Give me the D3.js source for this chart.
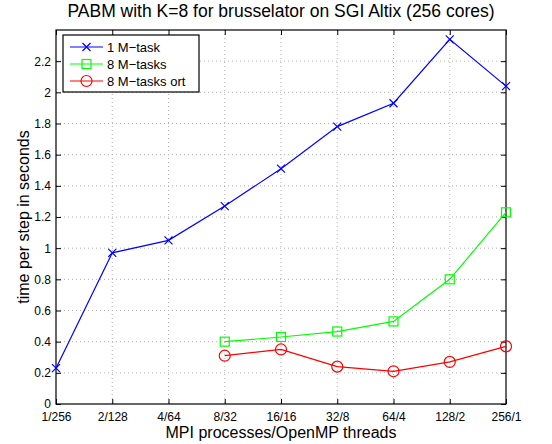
<html>
<head>
<meta charset="UTF-8">
<script src="https://cdn.jsdelivr.net/npm/d3@7"></script>
<style>
body { margin: 0; background: #fff; }
svg { font-family: "Liberation Sans", Arial, sans-serif; }
.grid line { stroke: #b0b0b0; stroke-dasharray: 1,3; }
</style>
</head>
<body>
<svg id="chart" width="552" height="444"></svg>
<script>
var categories = ["1/256", "2/128", "4/64", "8/32", "16/16", "32/8", "64/4", "128/2", "256/1"];
var yTicks = [0, 0.2, 0.4, 0.6, 0.8, 1, 1.2, 1.4, 1.6, 1.8, 2, 2.2];
var oneTask = [0.23, 0.97, 1.05, 1.27, 1.51, 1.78, 1.93, 2.34, 2.04];
var eightTasks = [null, null, null, 0.40, 0.43, 0.465, 0.53, 0.80, 1.23];
var eightOrt = [null, null, null, 0.31, 0.35, 0.24, 0.21, 0.27, 0.37];

var svg = d3.select("#chart"),
  pl = 56, pr = 506, pt = 30, pb = 404;

var x = d3.scalePoint().domain(categories).range([pl, pr]),
  y = d3.scaleLinear().domain([0, 2.4]).range([pb, pt]);

// grid
var grid = svg.append("g").attr("class", "grid");
grid.selectAll(".gx").data(categories.slice(1, -1)).enter().append("line")
  .attr("x1", function(d){ return x(d); }).attr("x2", function(d){ return x(d); })
  .attr("y1", pt).attr("y2", pb);
grid.selectAll(".gy").data(yTicks.slice(1)).enter().append("line")
  .attr("x1", pl).attr("x2", pr)
  .attr("y1", function(d){ return y(d); }).attr("y2", function(d){ return y(d); });

// axes (ticks inside, matlab style)
svg.append("g").attr("transform", "translate(0," + pb + ")")
  .call(d3.axisBottom(x).tickSize(-5).tickPadding(8))
  .call(function(g){ g.select(".domain").remove(); });
svg.append("g").attr("transform", "translate(0," + pt + ")")
  .call(d3.axisTop(x).tickSize(-5).tickFormat(""))
  .call(function(g){ g.select(".domain").remove(); });
svg.append("g").attr("transform", "translate(" + pl + ",0)")
  .call(d3.axisLeft(y).tickValues(yTicks).tickSize(-5).tickPadding(5).tickFormat(d3.format("~g")))
  .call(function(g){ g.select(".domain").remove(); });
svg.append("g").attr("transform", "translate(" + pr + ",0)")
  .call(d3.axisRight(y).tickValues(yTicks).tickSize(-5).tickFormat(""))
  .call(function(g){ g.select(".domain").remove(); });
svg.selectAll(".tick text").attr("font-size", 12).attr("font-family", "Liberation Sans, Arial, sans-serif").attr("fill", "#000");
svg.selectAll(".tick line").attr("stroke", "#000");

svg.append("rect").attr("x", pl).attr("y", pt)
  .attr("width", pr - pl).attr("height", pb - pt)
  .attr("fill", "none").attr("stroke", "#000").attr("stroke-width", 1.2);

// series
var series = [
  {name: "1 M\u2212task", values: oneTask, color: "#0000ff", marker: "x"},
  {name: "8 M\u2212tasks", values: eightTasks, color: "#00ff00", marker: "square"},
  {name: "8 M\u2212tasks ort", values: eightOrt, color: "#ff0000", marker: "circle"}
];

var line = d3.line()
  .defined(function(d){ return d.v !== null; })
  .x(function(d){ return x(d.c); })
  .y(function(d){ return y(d.v); });

function drawMarker(g, type, cx, cy, color) {
  if (type === "x") {
    g.append("path").attr("d", "M" + (cx-4) + "," + (cy-4) + "L" + (cx+4) + "," + (cy+4) + "M" + (cx-4) + "," + (cy+4) + "L" + (cx+4) + "," + (cy-4))
      .attr("stroke", color).attr("stroke-width", 1.2).attr("fill", "none");
  } else if (type === "square") {
    g.append("rect").attr("x", cx-4.5).attr("y", cy-4.5).attr("width", 9).attr("height", 9)
      .attr("stroke", color).attr("stroke-width", 1.2).attr("fill", "none");
  } else {
    g.append("circle").attr("cx", cx).attr("cy", cy).attr("r", 5.5)
      .attr("stroke", color).attr("stroke-width", 1.2).attr("fill", "none");
  }
}

series.forEach(function(s){
  var pts = s.values.map(function(v, i){ return {c: categories[i], v: v}; });
  svg.append("path").attr("d", line(pts)).attr("fill", "none")
    .attr("stroke", s.color).attr("stroke-width", 1.2);
  var g = svg.append("g");
  pts.filter(function(d){ return d.v !== null; }).forEach(function(d){
    drawMarker(g, s.marker, x(d.c), y(d.v), s.color);
  });
});

// legend
var lg = svg.append("g");
lg.append("rect").attr("x", 63).attr("y", 35).attr("width", 136).attr("height", 57)
  .attr("fill", "#fff").attr("stroke", "#000").attr("stroke-width", 1.2);
series.forEach(function(s, i){
  var ly = 47 + i * 17;
  lg.append("line").attr("x1", 70).attr("x2", 103).attr("y1", ly).attr("y2", ly)
    .attr("stroke", s.color).attr("stroke-width", 1.2);
  drawMarker(lg, s.marker, 86.5, ly, s.color);
  lg.append("text").attr("x", 107).attr("y", ly + 5).attr("font-size", 13).text(s.name);
});

// titles
svg.append("text").attr("x", 281).attr("y", 17).attr("text-anchor", "middle")
  .attr("font-size", 17.5).text("PABM with K=8 for brusselator on SGI Altix (256 cores)");
svg.append("text").attr("x", 281).attr("y", 438).attr("text-anchor", "middle")
  .attr("font-size", 16).text("MPI processes/OpenMP threads");
svg.append("text").attr("transform", "translate(29," + ((pt + pb) / 2) + ") rotate(-90)")
  .attr("text-anchor", "middle").attr("font-size", 16).text("time per step in seconds");
</script>
</body>
</html>
